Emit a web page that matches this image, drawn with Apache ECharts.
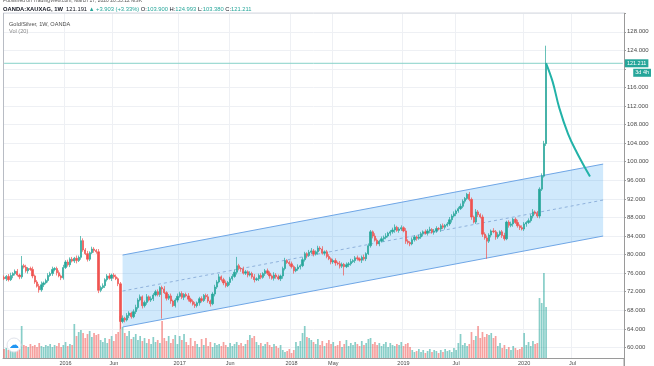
<!DOCTYPE html>
<html><head><meta charset="utf-8">
<script src="https://cdn.jsdelivr.net/npm/echarts@6/dist/echarts.min.js"></script>
<style>html,body{margin:0;padding:0;background:#fff}#c{width:654px;height:366px}</style>
</head><body><div id="c"></div>
<script>
// Weekly closes (OANDA:XAUXAG, 1W), Jun 2015 -> Mar 2020
const closes = [
74.8,75.3,74.6,75.5,75.9,76.4,75.6,75.2,77.6,77.3,
76.5,77.0,76.8,75.4,74.1,73.2,72.4,73.5,73.9,74.4,
75.5,75.9,76.8,77.0,76.1,75.4,75.0,77.2,78.4,77.8,
79.0,78.6,79.2,78.7,79.4,83.0,81.0,80.2,79.0,80.4,
81.2,80.9,80.6,72.3,72.9,73.3,74.6,75.4,74.9,75.6,
75.2,74.8,73.7,65.6,66.3,65.9,66.9,67.4,66.6,67.7,
68.6,70.2,70.9,69.0,69.7,70.9,70.2,70.5,71.3,72.0,
71.4,72.9,72.6,71.8,70.6,71.1,70.0,69.0,70.2,71.0,
71.6,70.8,71.4,71.1,70.4,69.9,69.3,69.0,69.6,70.5,
70.1,71.2,70.9,70.0,69.4,71.5,73.0,74.1,75.2,74.6,
73.9,73.3,74.0,74.8,75.3,76.2,77.6,77.0,76.9,76.0,
76.3,75.6,75.9,75.2,74.6,74.8,75.5,75.1,75.9,76.5,
76.0,75.4,74.9,75.6,75.2,74.8,75.4,77.0,78.7,78.3,
78.0,77.4,76.5,76.9,77.3,77.6,78.9,80.2,79.8,80.5,
80.8,80.1,80.6,81.4,81.2,80.3,80.6,79.6,79.1,78.4,
78.7,78.2,78.0,77.5,77.9,77.4,77.8,78.0,78.5,78.7,
79.3,79.1,78.8,79.4,79.1,80.2,81.9,84.9,84.0,83.1,
82.3,82.9,83.4,83.7,84.0,84.6,84.9,85.3,85.9,85.2,
85.5,85.8,85.1,82.9,82.6,82.3,83.2,83.8,83.5,83.8,
84.5,84.9,84.6,85.1,85.4,84.8,85.1,85.6,85.5,86.2,
85.9,86.3,86.6,87.5,88.3,88.8,89.4,89.9,90.4,91.5,
92.1,93.0,91.9,88.1,87.0,89.2,88.6,88.1,84.4,83.6,
82.9,84.2,85.1,84.9,83.8,84.3,84.9,84.1,83.4,87.0,
86.3,86.6,87.6,86.9,86.2,85.8,85.5,86.6,86.9,87.3,
88.3,89.2,88.9,88.3,94.1,96.9,103.9,121.2
];
const firstOpen = 75.1;
// upper / lower wick lengths in tenths of a point
const wickHi = [
4,3,5,6,3,4,5,3,21,4,
5,3,4,6,3,4,5,7,3,4,
5,4,6,3,4,5,3,6,4,5,
4,5,3,6,4,10,5,4,6,3,
5,4,3,6,4,5,3,4,6,3,
4,5,3,4,6,3,5,4,3,5,
6,4,5,3,4,6,3,5,4,4,
5,3,4,6,3,4,5,3,4,6,
4,5,3,4,6,3,4,5,3,4,
5,3,4,6,3,4,5,4,6,3,
4,5,3,4,5,6,19,4,3,5,
4,3,5,4,6,3,4,5,3,4,
5,4,3,6,4,5,3,4,6,3,
4,5,3,4,6,3,5,4,3,5,
6,4,3,5,4,6,3,4,5,3,
4,5,3,6,4,3,5,4,6,3,
4,5,3,4,6,3,5,4,3,6,
4,3,5,4,6,3,4,5,6,3,
4,5,3,6,4,3,5,4,3,5,
4,3,5,4,6,3,4,5,3,4,
5,3,4,6,4,5,3,4,6,4,
3,3,5,4,3,6,4,3,5,4,
5,4,3,6,4,5,3,4,6,3,
4,5,3,4,6,3,5,4,3,5,
4,6,3,5,4,6,6,38
];
const wickLo = [
3,5,4,3,6,4,3,5,4,3,
4,6,3,5,4,3,6,4,5,3,
4,3,5,4,6,3,5,4,3,4,
5,3,4,6,3,5,4,3,5,4,
3,5,4,6,4,3,5,4,3,6,
4,3,5,16,4,5,3,6,4,3,
5,4,3,6,4,5,3,4,5,3,
4,5,64,3,5,4,6,3,4,5,
3,4,6,3,5,4,3,5,4,6,
4,3,5,4,6,3,5,4,3,4,
5,4,3,6,4,3,5,4,6,3,
4,5,3,4,6,3,5,4,3,5,
4,6,3,5,4,3,5,6,4,3,
5,4,6,3,4,5,3,4,6,3,
4,5,3,6,4,3,5,4,3,5,
4,6,3,5,4,19,3,5,4,3,
5,4,3,6,4,5,3,4,5,3,
4,5,3,6,4,3,5,4,6,3,
5,4,3,6,4,5,3,4,5,3,
4,6,3,5,4,3,5,4,3,6,
4,5,3,4,6,3,5,4,3,4,
5,3,4,6,3,4,5,3,6,4,
38,4,5,3,6,4,3,5,4,3,
5,4,6,3,4,5,3,4,6,3,
4,5,3,4,5,4,3,5
];
const volumes = [
9,10,8,11,9,12,10,9,32,13,
12,11,14,12,13,11,15,12,11,13,
12,14,11,13,12,15,11,13,16,12,
14,13,34,22,26,28,25,20,24,27,
21,25,23,24,18,16,20,15,19,22,
17,24,26,42,31,25,22,27,19,21,
24,18,22,17,20,15,19,14,21,16,
18,15,37,20,17,22,15,19,23,14,
22,18,24,16,13,20,12,17,14,11,
19,13,20,12,16,11,15,13,14,12,
16,13,11,15,12,14,16,13,15,12,
14,18,23,20,22,16,13,15,12,14,
16,13,11,14,12,10,13,8,6,7,
9,5,8,16,12,17,25,32,21,20,
18,16,14,19,13,17,12,15,18,14,
16,12,13,17,11,14,18,12,15,13,
16,14,12,17,13,15,19,20,14,16,
13,15,12,14,16,11,15,13,12,14,
13,16,12,14,15,11,8,6,7,9,
6,8,5,7,9,6,8,7,5,8,
6,9,7,8,6,10,8,15,24,13,
15,12,14,26,18,22,32,20,26,21,
24,23,25,20,22,12,15,10,13,9,
11,8,12,10,8,9,11,25,13,16,
12,17,14,15,60,55,85,51
];
const nCats = 283;
const tickIdx  = [28, 50, 80, 103, 131, 150, 182, 206, 237, 259];
const tickText = ['2016','Jun','2017','Jun','2018','May','2019','Jul','2020','Jul'];
// parallel channel (start / end week index, upper and lower bound)
const chanIdx   = [54, 273];
const chanUpper = [79.9, 99.5];
const chanLower = [64.4, 84.0];
// hand-drawn projection curve
const projIdx = [247, 250, 253, 257, 261, 267];
const projVal = [121.2, 117.2, 111.6, 106.0, 102.0, 96.8];
const lastPrice = 121.211;

const cats = Array.from({length: nCats}, (_, i) => String(i));
const opens = closes.map((c, i) => i === 0 ? firstOpen : closes[i - 1]);
const candleData = closes.map((c, i) => {
  const o = opens[i];
  return [o, c, Math.min(o, c) - wickLo[i] / 10, Math.max(o, c) + wickHi[i] / 10];
});
const volData = volumes.map((v, i) => ({
  value: v,
  itemStyle: {color: closes[i] >= opens[i] ? 'rgba(38,166,154,0.55)' : 'rgba(239,83,80,0.55)'}
}));
const chanMid = chanUpper.map((u, k) => (u + chanLower[k]) / 2);
const pair = (idx, vals) => idx.map((x, k) => [x, vals[k]]);

const showTick = i => tickIdx.indexOf(i) >= 0;
const chart = echarts.init(document.getElementById('c'), null, {renderer: 'canvas'});
const blue = '#6fa6e6';
const priceLineColor = '#86d2c9';
chart.setOption({
  animation: false,
  backgroundColor: '#fff',
  grid: [
    {left: 3, right: 30, top: 13.2, height: 354.46},
    {left: 3, right: 30, top: 13, height: 345}
  ],
  xAxis: [
    {type: 'category', gridIndex: 0, data: cats, boundaryGap: true, show: false},
    {type: 'category', gridIndex: 1, data: cats, boundaryGap: true,
     axisLine: {lineStyle: {color: '#9a9a9a', width: 1}},
     axisTick: {show: false},
     axisLabel: {interval: (i) => showTick(i), formatter: (v, i) => {const k = tickIdx.indexOf(i); return k >= 0 ? tickText[k] : '';},
                 fontSize: 5.5, color: '#4a4a4a', margin: 2, fontFamily: 'Liberation Sans'},
     splitLine: {show: true, interval: (i) => showTick(i), lineStyle: {color: '#eef0f4', width: 1}}}
  ],
  yAxis: [
    {type: 'value', gridIndex: 0, position: 'right', min: 56, max: 132, interval: 4,
     axisLine: {show: true, lineStyle: {color: '#9a9a9a'}},
     axisTick: {show: true, length: 2, lineStyle: {color: '#9a9a9a'}},
     axisLabel: {formatter: v => (v >= 60 && v <= 128 && v !== 120) ? v.toFixed(3) : '', fontSize: 6, color: '#4a4a4a', margin: 3, fontFamily: 'Liberation Sans'},
     splitLine: {show: true, lineStyle: {color: '#eef0f4'}}},
    {type: 'value', gridIndex: 1, min: 0, max: 345, show: false}
  ],
  axisPointer: {show: false},
  series: [
    {type: 'bar', name: 'Vol', xAxisIndex: 1, yAxisIndex: 1, data: volData, barWidth: '78%', z: 1},
    {type: 'custom', xAxisIndex: 0, yAxisIndex: 0, z: 2, silent: true,
     data: [[chanIdx[0], chanUpper[0], chanLower[0]], [chanIdx[1], chanUpper[1], chanLower[1]]],
     renderItem: (params, api) => {
       if (params.dataIndex !== 0) return null;
       const pts = [
         api.coord([chanIdx[0], chanUpper[0]]), api.coord([chanIdx[1], chanUpper[1]]),
         api.coord([chanIdx[1], chanLower[1]]), api.coord([chanIdx[0], chanLower[0]])
       ];
       return {type: 'polygon', shape: {points: pts}, style: {fill: 'rgba(33,150,243,0.21)'}};
     }},
    {type: 'line', xAxisIndex: 0, yAxisIndex: 0, data: pair(chanIdx, chanUpper), symbol: 'none', z: 3, silent: true,
     lineStyle: {color: blue, width: 1}},
    {type: 'line', xAxisIndex: 0, yAxisIndex: 0, data: pair(chanIdx, chanLower), symbol: 'none', z: 3, silent: true,
     lineStyle: {color: blue, width: 1}},
    {type: 'line', xAxisIndex: 0, yAxisIndex: 0, data: pair(chanIdx, chanMid), symbol: 'none', z: 3, silent: true,
     lineStyle: {color: '#8fb2dc', width: 1, type: [3, 3]}},
    {type: 'line', name: 'priceLine', xAxisIndex: 0, yAxisIndex: 0, z: 3, silent: true, symbol: 'none',
     data: [[0, lastPrice], [nCats - 1, lastPrice]],
     lineStyle: {color: priceLineColor, width: 1},
     endLabel: {show: true, formatter: '121.211', backgroundColor: '#26a69a', color: '#fff', fontSize: 5.5,
                padding: [1, 2, 1, 2], distance: 2, fontFamily: 'Liberation Sans'}},
    {type: 'candlestick', name: 'Gold/Silver', xAxisIndex: 0, yAxisIndex: 0, data: candleData, barWidth: '80%', z: 4,
     itemStyle: {color: '#26a69a', color0: '#ef5350', borderColor: '#26a69a', borderColor0: '#ef5350', borderWidth: 0.7}},
    {type: 'line', xAxisIndex: 0, yAxisIndex: 0, data: pair(projIdx, projVal), symbol: 'none', smooth: 0.4, z: 5, silent: true,
     lineStyle: {color: '#22b2a8', width: 2}}
  ]
});

const py = chart.convertToPixel({yAxisIndex: 0}, lastPrice);
chart.setOption({
  graphic: [
    {type: 'line', shape: {x1: 3, y1: 13, x2: 624, y2: 13}, style: {stroke: '#d6d9e0', lineWidth: 1}, silent: true},
    {type: 'line', shape: {x1: 3.5, y1: 13, x2: 3.5, y2: 358}, style: {stroke: '#b8bcc4', lineWidth: 1}, silent: true},
    {type: 'line', shape: {x1: 624, y1: 358, x2: 624, y2: 366}, style: {stroke: '#9a9a9a', lineWidth: 1}, silent: true},
    {type: 'text', x: 3, y: 1, style: {text: 'Published on TradingView.com, March 17, 2020 20:53:12 MSK', fontSize: 5, fill: '#555',
      fontFamily: 'Liberation Sans', verticalAlign: 'middle'}},
    {type: 'text', x: 3, y: 9.5, style: {
      text: '{b|OANDA:XAUXAG, 1W}  {d|121.191} {g|▲ +3.903 (+3.33%)} {d|O:}{g|103.900} {d|H:}{g|124.993} {d|L:}{g|103.380} {d|C:}{g|121.211}',
      verticalAlign: 'middle', fontFamily: 'Liberation Sans', fontSize: 5.8,
      rich: {b: {fontWeight: 'bold', fill: '#131722', fontSize: 5.8, fontFamily: 'Liberation Sans'},
             d: {fill: '#131722', fontSize: 5.8, fontFamily: 'Liberation Sans'},
             g: {fill: '#26a69a', fontSize: 5.8, fontFamily: 'Liberation Sans'}}}},
    {type: 'text', x: 9, y: 24, style: {text: 'Gold/Silver, 1W, OANDA', fontSize: 5.6, fill: '#4a4a4a',
      fontFamily: 'Liberation Sans', verticalAlign: 'middle'}},
    {type: 'text', x: 9, y: 31.5, style: {text: 'Vol (20)', fontSize: 5.6, fill: '#8a8a8a',
      fontFamily: 'Liberation Sans', verticalAlign: 'middle'}},
    {type: 'text', x: 651, y: py + 9.5, style: {text: '3d 4h', fontSize: 5.5, fill: '#fff', backgroundColor: '#26a69a',
      padding: [1, 2, 1, 2], align: 'right', verticalAlign: 'middle', fontFamily: 'Liberation Sans'}},
    {type: 'circle', shape: {cx: 14, cy: 345, r: 7}, style: {fill: '#fff', stroke: '#e0e3eb', lineWidth: 1}, z: 10},
    {type: 'text', x: 14, y: 345, z: 11, style: {text: '☁', fontSize: 10, fill: '#2196f3', align: 'center', verticalAlign: 'middle',
      fontFamily: 'DejaVu Sans'}}
  ]
});
</script>
</body></html>
